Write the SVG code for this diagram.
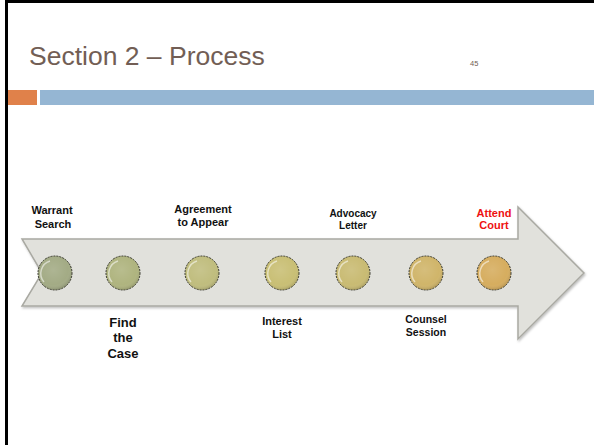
<svg xmlns="http://www.w3.org/2000/svg" width="594" height="445" viewBox="0 0 594 445">
<style>
.lbl{font-family:"Liberation Sans",Arial,sans-serif;font-weight:bold;font-size:11px;fill:#111;text-anchor:middle}
.big{font-size:13px}
.sm{font-size:10px}
.md{font-size:10.5px}
.red{fill:#ee1111}
.dot{stroke:#3a3a30;stroke-width:1;stroke-dasharray:2 1}
.hl{fill:none;stroke:#fff;stroke-opacity:0.55;stroke-width:1.5}
</style>
<defs>
<radialGradient id="shine" cx="0.45" cy="0.4" r="0.6">
<stop offset="0" stop-color="#fff" stop-opacity="0.12"/>
<stop offset="0.75" stop-color="#fff" stop-opacity="0"/>
<stop offset="1" stop-color="#000" stop-opacity="0.12"/>
</radialGradient>
<filter id="sh" x="-5%" y="-10%" width="115%" height="130%">
<feDropShadow dx="1" dy="1.5" stdDeviation="1" flood-color="#000" flood-opacity="0.25"/>
</filter>
</defs>
<rect width="594" height="445" fill="#fff"/>
<rect x="6.5" y="1.5" width="600" height="460" fill="none" stroke="#000" stroke-width="3"/>
<text x="29" y="65" font-family="'Liberation Sans',Arial,sans-serif" font-size="26.5" fill="#725e55">Section 2 – Process</text>
<text x="470" y="66" font-family="'Liberation Sans',Arial,sans-serif" font-size="7.5" fill="#725e55">45</text>
<rect x="8" y="90" width="29" height="15" fill="#e0814a"/>
<rect x="40" y="90" width="554" height="15" fill="#95b6d3"/>
<g id="arrow">
<polygon points="22,239 518,239 518,207 584,273 518,339 518,306 22,306 42,273" fill="#e1e1dc" stroke="#a9a9a2" stroke-width="1.5" filter="url(#sh)"/>
</g>
<g id="connectors"></g>
<g id="n1"><circle cx="55" cy="273" r="17" fill="#a3ab85" class="dot"/><circle cx="55" cy="273" r="16.5" fill="url(#shine)"/><path class="hl" d="M44,282 A13,13 0 0 1 50,261"/>
<text class="lbl" x="52" y="214">Warrant</text><text class="lbl" x="53" y="228">Search</text></g>
<g id="n2"><circle cx="123" cy="273" r="17" fill="#afb47f" class="dot"/><circle cx="123" cy="273" r="16.5" fill="url(#shine)"/><path class="hl" d="M112,282 A13,13 0 0 1 118,261"/>
<text class="lbl big" x="123" y="327">Find</text><text class="lbl big" x="123" y="342">the</text><text class="lbl big" x="123" y="358">Case</text></g>
<g id="n3"><circle cx="202" cy="273" r="17" fill="#c0bd7e" class="dot"/><circle cx="202" cy="273" r="16.5" fill="url(#shine)"/><path class="hl" d="M191,282 A13,13 0 0 1 197,261"/>
<text class="lbl" x="203" y="213">Agreement</text><text class="lbl" x="203" y="226">to Appear</text></g>
<g id="n4"><circle cx="282" cy="273" r="17" fill="#c9bf75" class="dot"/><circle cx="282" cy="273" r="16.5" fill="url(#shine)"/><path class="hl" d="M271,282 A13,13 0 0 1 277,261"/>
<text class="lbl" x="282" y="325">Interest</text><text class="lbl" x="282" y="338">List</text></g>
<g id="n5"><circle cx="353" cy="273" r="17" fill="#c9bb73" class="dot"/><circle cx="353" cy="273" r="16.5" fill="url(#shine)"/><path class="hl" d="M342,282 A13,13 0 0 1 348,261"/>
<text class="lbl sm" x="353" y="217">Advocacy</text><text class="lbl sm" x="353" y="229">Letter</text></g>
<g id="n6"><circle cx="426" cy="273" r="17" fill="#d0b56a" class="dot"/><circle cx="426" cy="273" r="16.5" fill="url(#shine)"/><path class="hl" d="M415,282 A13,13 0 0 1 421,261"/>
<text class="lbl md" x="426" y="323">Counsel</text><text class="lbl md" x="426" y="336">Session</text></g>
<g id="n7"><circle cx="494" cy="273" r="17" fill="#d6ad5f" class="dot"/><circle cx="494" cy="273" r="16.5" fill="url(#shine)"/><path class="hl" d="M483,282 A13,13 0 0 1 489,261"/>
<text class="lbl red" x="494" y="217">Attend</text><text class="lbl red" x="494" y="229">Court</text></g>
</svg>
